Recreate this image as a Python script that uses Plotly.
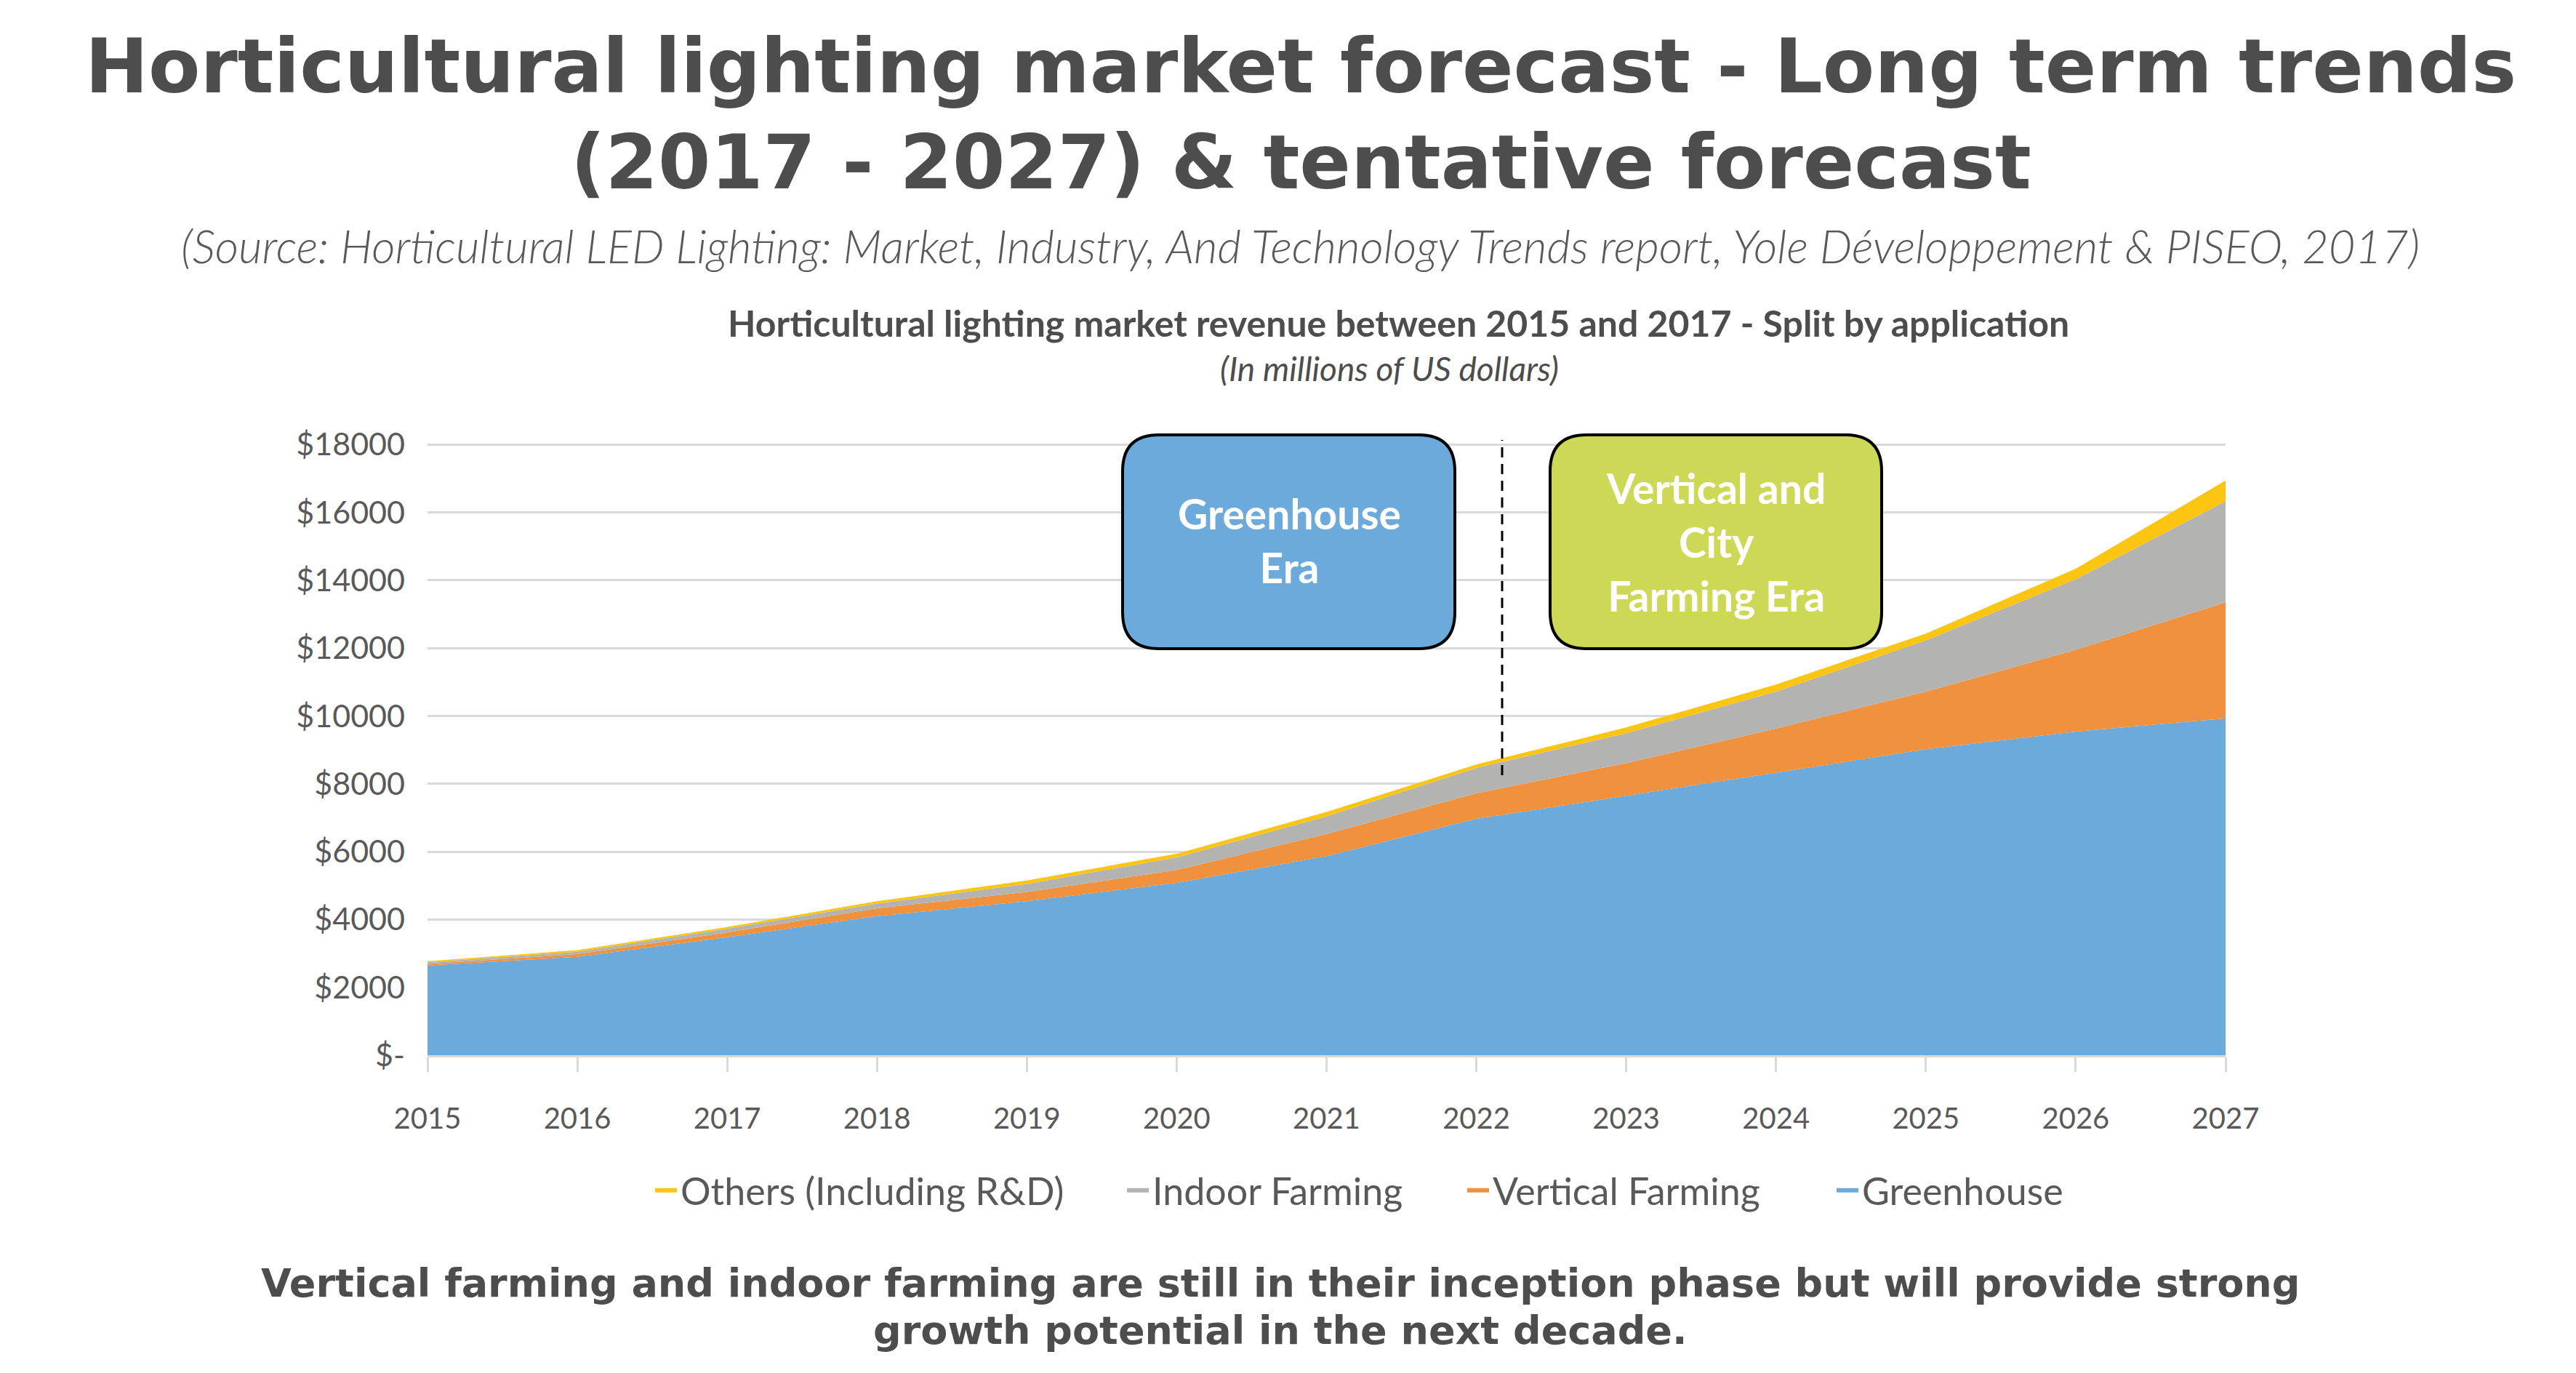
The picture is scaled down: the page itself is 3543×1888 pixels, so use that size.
import plotly.graph_objects as go

years = [2015, 2016, 2017, 2018, 2019, 2020, 2021, 2022, 2023, 2024, 2025, 2026, 2027]
greenhouse = [2640, 2900, 3480, 4100, 4540, 5080, 5870, 6970, 7650, 8330, 9020, 9540, 9930]
vertical_farming = [50, 80, 140, 230, 270, 380, 650, 750, 960, 1300, 1700, 2410, 3420]
indoor_farming = [50, 70, 110, 140, 240, 370, 520, 750, 880, 1090, 1510, 2080, 2980]
others = [30, 50, 50, 70, 100, 110, 130, 100, 170, 210, 200, 310, 610]

series_names = ["Greenhouse", "Vertical Farming", "Indoor Farming", "Others (Including R&D)"]
series_colors = ["#6CAADC", "#F0913D", "#B3B3B1", "#FCC512"]

y_tickvals = [0, 2000, 4000, 6000, 8000, 10000, 12000, 14000, 16000, 18000]
y_ticktext = ["$-", "$2000", "$4000", "$6000", "$8000", "$10000", "$12000", "$14000", "$16000", "$18000"]

W, H = 3543, 1888
ML, MR, MT, MB = 580, 490, 580, 445
PH = H - MT - MB
PW = W - ML - MR
FONT = "Lato"
HEAVY = "DejaVu Sans"
TXT = "#4D4D4D"

def py(p):
    return (H - MB - p) / PH

def px(p):
    return (p - ML) / PW

legend_ids = ["legend4", "legend3", "legend2", "legend"]
legend_x = [2513, 2005, 1537, 888]

fig = go.Figure()
for name, vals, col, lid in zip(series_names, [greenhouse, vertical_farming, indoor_farming, others],
                                series_colors, legend_ids):
    fig.add_trace(go.Scatter(
        x=years, y=vals, name=name, stackgroup="one", mode="none",
        fillcolor=col, legend=lid,
    ))

def rounded_path(x0, x1, y0, y1, rx, ry):
    return (f"M {x0+rx},{y1} L {x1-rx},{y1} Q {x1},{y1} {x1},{y1-ry} "
            f"L {x1},{y0+ry} Q {x1},{y0} {x1-rx},{y0} L {x0+rx},{y0} "
            f"Q {x0},{y0} {x0},{y0+ry} L {x0},{y1-ry} Q {x0},{y1} {x0+rx},{y1} Z")

yr_px = PW / 12.0
val_px = PH / 18500.0

def to_x(p):
    return 2015 + (p - ML) / yr_px

def to_y(p):
    return (H - MB - p) / val_px

rx = 50 / yr_px
ry = 50 / val_px
boxes = [
    (1536, 1993, "#6CAADC"),
    (2124, 2580, "#CDD956"),
]
shapes = []
for bx0, bx1, col in boxes:
    shapes.append(dict(
        type="path", xref="x", yref="y",
        path=rounded_path(to_x(bx0), to_x(bx1), to_y(884), to_y(590), rx, ry),
        fillcolor=col, line=dict(color="black", width=4), layer="above",
    ))

shapes.append(dict(
    type="line", xref="x", yref="y",
    x0=to_x(2058), x1=to_x(2058), y0=to_y(1058), y1=to_y(597),
    line=dict(color="black", width=3, dash="14px,9px"), layer="above",
))

annotations = [
    dict(text="Horticultural lighting market forecast - Long term trends", x=px(1781), y=py(83),
         font=dict(family=HEAVY, size=104, color=TXT, weight=700)),
    dict(text="(2017 - 2027) & tentative forecast", x=px(1781), y=py(215),
         font=dict(family=HEAVY, size=104, color=TXT, weight=700)),
    dict(text="(Source: Horticultural LED Lighting: Market, Industry, And Technology Trends report, Yole Développement & PISEO, 2017)",
         x=px(1780), y=py(330), font=dict(family=FONT, size=63, color="#595959", weight=300, style="italic")),
    dict(text="Horticultural lighting market revenue between 2015 and 2017 - Split by application",
         x=px(1915), y=py(436), font=dict(family=FONT, size=50, color=TXT, weight=700)),
    dict(text="(In millions of US dollars)", x=px(1903), y=py(499),
         font=dict(family=FONT, size=46, color=TXT, style="italic")),
    dict(text="Vertical farming and indoor farming are still in their inception phase but will provide strong",
         x=px(1753), y=py(1756), font=dict(family=HEAVY, size=54, color=TXT, weight=700)),
    dict(text="growth potential in the next decade.",
         x=px(1753), y=py(1821), font=dict(family=HEAVY, size=54, color=TXT, weight=700)),
    dict(text="Greenhouse<br>Era", x=to_x(1765), y=to_y(735), xref="x", yref="y",
         font=dict(family=FONT, size=57, color="white", weight=700)),
    dict(text="Vertical and<br>City<br>Farming Era", x=to_x(2352), y=to_y(737), xref="x", yref="y",
         font=dict(family=FONT, size=57, color="white", weight=700)),
]
for a in annotations:
    a.setdefault("xref", "paper")
    a.setdefault("yref", "paper")
    a.update(showarrow=False, xanchor="center", yanchor="middle")

legend_common = dict(orientation="h", yanchor="middle", y=py(1629), xanchor="left",
                     font=dict(family=FONT, size=52, color="#595959"), itemwidth=30,
                     bgcolor="rgba(0,0,0,0)")
legends = {}
for lid, lx in zip(legend_ids, legend_x):
    legends[lid] = dict(legend_common, x=px(lx))

fig.update_layout(
    width=W, height=H,
    margin=dict(l=ML, r=MR, t=MT, b=MB),
    paper_bgcolor="white", plot_bgcolor="white",
    showlegend=True,
    xaxis=dict(range=[2015, 2027], tickvals=years, ticktext=[str(y) for y in years],
               showgrid=False, zeroline=False, showline=True, linecolor="#D9D9D9", linewidth=3,
               ticks="outside", ticklen=20, tickwidth=3, tickcolor="#D9D9D9",
               tickfont=dict(family=FONT, size=40, color="#595959"), ticklabelstandoff=30),
    yaxis=dict(range=[0, 18500], tickvals=y_tickvals, ticktext=y_ticktext,
               showgrid=True, gridcolor="#D9D9D9", gridwidth=3, zeroline=False, showline=False,
               tickfont=dict(family=FONT, size=43, color="#595959"), ticklabelstandoff=30),
    shapes=shapes, annotations=annotations,
    **legends,
)

fig.write_html("out.html")
